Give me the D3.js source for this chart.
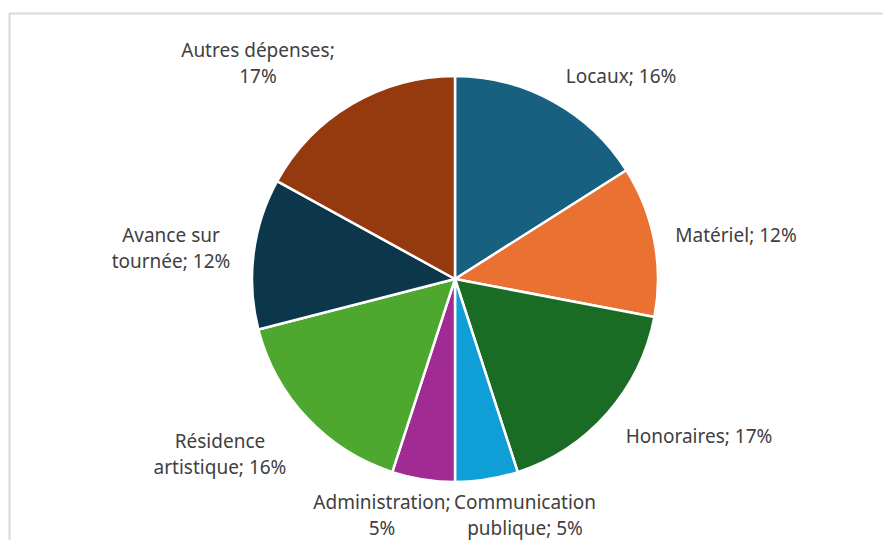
<!DOCTYPE html>
<html>
<head>
<meta charset="utf-8">
<script src="https://cdn.jsdelivr.net/npm/d3@7"></script>
<style>
  body { margin: 0; background: #fff; }
  text { font-family: "Noto Sans", sans-serif; font-size: 19px; fill: #404040; }
</style>
</head>
<body>
<div id="chart"></div>
<script>
// data
var categories = ["Locaux", "Matériel", "Honoraires", "Communication publique",
    "Administration", "Résidence artistique", "Avance sur tournée", "Autres dépenses"];
var values = [16, 12, 17, 5, 5, 16, 12, 17];
var colors = ["#17607f", "#e97132", "#1a6b24", "#0f9ed5", "#a02b93", "#4ea72e", "#0c364a", "#95390e"];

// how excel wrapped each label + where it put it (first baseline, offset from pie centre)
var labelLines = [
    ["Locaux; 16%"],
    ["Matériel; 12%"],
    ["Honoraires; 17%"],
    ["Communication", "publique; 5%"],
    ["Administration;", "5%"],
    ["Résidence", "artistique; 16%"],
    ["Avance sur", "tournée; 12%"],
    ["Autres dépenses;", "17%"]
];
var labelPos = [[166, -196], [281, -37], [244, 164], [70, 230], [-73, 230], [-235, 169], [-284, -37], [-197, -222]];

var width = 883, height = 540;
var cx = 455, cy = 279, radius = 203;
var lineH = 26;

var svg = d3.select("#chart").append("svg")
    .attr("width", width)
    .attr("height", height);

// chart area border (only top/left show in the crop)
svg.append("rect")
    .attr("x", 9.5)
    .attr("y", 13.5)
    .attr("width", width + 20)
    .attr("height", height + 20)
    .attr("fill", "none")
    .attr("stroke", "#d9d9d9")
    .attr("stroke-width", 2);

var pie = d3.pie().sort(null).value(function(d){ return d; });
var arc = d3.arc().innerRadius(0).outerRadius(radius);

var g = svg.append("g")
    .attr("transform", "translate(" + cx + "," + cy + ")");

g.selectAll("path")
    .data(pie(values))
    .enter()
    .append("path")
    .attr("d", arc)
    .attr("fill", function(d, i){ return colors[i]; })
    .attr("stroke", "#fff")
    .attr("stroke-width", 2.5)
    .attr("stroke-linejoin", "round");

var labels = g.selectAll(".lbl")
    .data(categories)
    .enter()
    .append("text")
    .attr("class", "lbl")
    .attr("text-anchor", "middle")
    .attr("transform", function(d, i){
        return "translate(" + labelPos[i][0] + "," + labelPos[i][1] + ")";
    });

labels.selectAll("tspan")
    .data(function(d, i){ return labelLines[i]; })
    .enter()
    .append("tspan")
    .attr("x", 0)
    .attr("dy", function(d, j){ return j == 0 ? 0 : lineH; })
    .text(function(d){ return d; });
</script>
</body>
</html>
